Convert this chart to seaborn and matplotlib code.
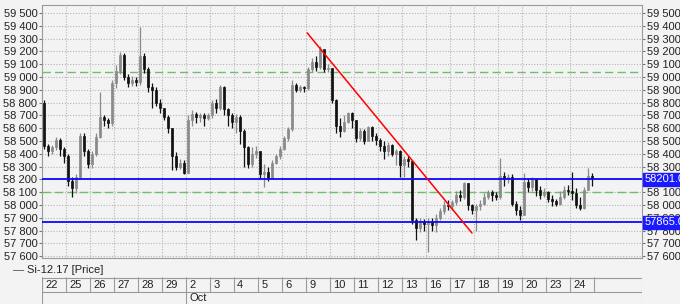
import numpy as np
import pandas as pd
import matplotlib
matplotlib.use("Agg")
import matplotlib.pyplot as plt
from matplotlib.ticker import FuncFormatter, MultipleLocator
import seaborn as sns

# ---------------- data ----------------
day_labels = ["22", "25", "26", "27", "28", "29", "2", "3", "4", "5", "6", "9",
              "10", "11", "12", "13", "16", "17", "18", "19", "20", "23", "24"]
month_label = "Oct"
month_start_day = "2"
first_open = 58800

close = [
    58460, 58420, 58450, 58510, 58440, 58380,   # 22
    58190, 58130, 58220, 58540, 58420, 58320,   # 25
    58400, 58530, 58690, 58660, 58640, 58950,   # 26
    59050, 59170, 59000, 58950, 58980, 58960,   # 27
    59160, 59060, 58920, 58900, 58800, 58760,   # 28
    58690, 58600, 58380, 58300, 58330, 58250,   # 29
    58660, 58710, 58690, 58700, 58680, 58700,   # 2
    58800, 58760, 58920, 58750, 58700, 58650,   # 3
    58690, 58580, 58450, 58320, 58400, 58420,   # 4
    58240, 58260, 58210, 58330, 58380, 58440,   # 5
    58520, 58590, 58940, 58900, 58920, 58910,   # 6
    59060, 59120, 59080, 59220, 59060, 59070,   # 9
    58820, 58620, 58580, 58650, 58720, 58660,   # 10
    58520, 58580, 58500, 58610, 58540, 58510,   # 11
    58460, 58420, 58470, 58400, 58420, 58310,   # 12
    58360, 58340, 57880, 57820, 57870, 57850,   # 13
    57870, 57840, 57900, 57950, 58000, 57990,   # 16
    58020, 58080, 58060, 58170, 58000, 57960,   # 17
    57990, 58010, 58060, 58100, 58080, 58060,   # 18
    58230, 58200, 58220, 58010, 57960, 57920,   # 19
    58180, 58140, 58200, 58120, 58080, 58100,   # 20
    58050, 58030, 58010, 58060, 58120, 58110,   # 23
    58090, 58000, 57980, 58120, 58230, 58201,   # 24
]
high = [
    58820, 58480, 58470, 58530, 58520, 58450,
    58400, 58220, 58240, 58560, 58560, 58440,
    58420, 58560, 58880, 58700, 58680, 58980,
    59090, 59195, 59190, 59020, 59010, 59000,
    59390, 59190, 59080, 58950, 58920, 58830,
    58760, 58700, 58600, 58410, 58360, 58350,
    58700, 58740, 58730, 58720, 58720, 58720,
    58820, 58830, 58940, 58930, 58760, 58720,
    58710, 58700, 58590, 58460, 58450, 58460,
    58420, 58320, 58300, 58350, 58400, 58460,
    58540, 58610, 58980, 58950, 58940, 58930,
    59080, 59150, 59160, 59240, 59200, 59100,
    59070, 58830, 58680, 58700, 58730, 58730,
    58660, 58600, 58590, 58620, 58620, 58560,
    58520, 58500, 58490, 58480, 58440, 58430,
    58380, 58380, 58350, 57900, 57900, 57890,
    57900, 57900, 57930, 57980, 58030, 58040,
    58040, 58110, 58120, 58180, 58170, 58010,
    58010, 58040, 58090, 58120, 58120, 58100,
    58370, 58260, 58240, 58240, 58030, 57990,
    58250, 58210, 58220, 58200, 58150, 58130,
    58110, 58080, 58050, 58110, 58150, 58160,
    58260, 58130, 58060, 58140, 58290, 58250,
]
low = [
    58440, 58380, 58400, 58430, 58380, 58330,
    58150, 58060, 58090, 58200, 58380, 58290,
    58290, 58380, 58520, 58620, 58600, 58620,
    58910, 59020, 58980, 58920, 58930, 58930,
    58940, 59030, 58880, 58760, 58770, 58720,
    58660, 58560, 58270, 58270, 58280, 58240,
    58250, 58620, 58640, 58650, 58620, 58660,
    58680, 58720, 58740, 58700, 58620, 58600,
    58560, 58480, 58300, 58290, 58300, 58370,
    58200, 58140, 58190, 58200, 58320, 58360,
    58430, 58500, 58580, 58880, 58880, 58880,
    58900, 59040, 59050, 59060, 59040, 59040,
    58800, 58560, 58530, 58570, 58640, 58600,
    58490, 58500, 58480, 58500, 58500, 58470,
    58420, 58360, 58380, 58380, 58310, 58220,
    58220, 58300, 57850, 57730, 57790, 57800,
    57630, 57800, 57790, 57880, 57930, 57960,
    57960, 58000, 58030, 58050, 57960, 57930,
    57800, 57960, 58000, 58050, 58030, 58040,
    58050, 58150, 58170, 57990, 57920, 57880,
    57920, 58100, 58110, 58070, 58050, 58060,
    58020, 57990, 57990, 58000, 58050, 58080,
    58040, 57980, 57960, 57970, 58150, 58150,
]

support_levels = [58201, 57865]          # blue lines
support_labels = ["58201.00", "57865.00"]
dashed_levels = [59040, 58100]           # green dashed lines
trend_x = [66.3, 107.5]                  # bar index of trend line ends
trend_y = [59344, 57781]

bars_per_day = 6
total_days = 25

# ---------------- derived ----------------
opens = [first_open] + close[:-1]
df = pd.DataFrame({"open": opens, "high": high, "low": low, "close": close})
df["x"] = np.arange(len(df)) + 0.5
df["up"] = df["close"] >= df["open"]

BG = "#f3f3f3"
sns.set_theme(style="white")
plt.rcParams["font.family"] = ["Liberation Sans", "DejaVu Sans"]
FS = 8.0

fig = plt.figure(figsize=(6.8, 3.04), dpi=100, facecolor=BG)
W, H = 680, 304
ax = fig.add_axes([42 / W, 1 - 258 / H, 600 / W, 253 / H])
ax.set_facecolor(BG)

xmax = total_days * bars_per_day
ax.set_xlim(0, xmax)
ax.set_ylim(57586, 59562)

# grid
for yv in range(57600, 59501, 100):
    ax.axhline(yv, color="#b4b4b4", lw=0.8, ls=(0, (1, 1.5)), zorder=0)
for k in range(1, len(day_labels)):
    ax.axvline(k * bars_per_day, color="#b4b4b4", lw=0.8, ls=(0, (1, 1.5)), zorder=0)

# reference lines
for lv in dashed_levels:
    ax.axhline(lv, color="#6cc06a", lw=1.0, ls=(0, (6, 3)), zorder=1)

# candles
up_c, dn_c = "#8a8a8a", "#111111"
colors = np.where(df["up"], up_c, dn_c)
ax.vlines(df["x"], df["low"], df["high"], colors=colors, lw=0.9, zorder=2)
body_lo = np.minimum(df["open"], df["close"])
body_h = np.maximum(np.abs(df["close"] - df["open"]), 4)
ax.bar(df["x"], body_h, bottom=body_lo, width=0.5, color=colors,
       edgecolor=colors, linewidth=0.5, zorder=3)

for lv in support_levels:
    ax.axhline(lv, color="#0a0aff", lw=1.3, zorder=4)

sns.lineplot(x=trend_x, y=trend_y, ax=ax, color="#ff0000", lw=1.1, zorder=5)

# axes styling
for side in ["left", "right", "top", "bottom"]:
    ax.spines[side].set_color("#9a9a9a")
    ax.spines[side].set_linewidth(0.8)
ax.yaxis.set_major_locator(MultipleLocator(100))
ax.yaxis.set_major_formatter(FuncFormatter(lambda v, p: f"{v:,.0f}".replace(",", " ")))
ax.tick_params(axis="y", which="both", left=True, right=True, labelleft=True,
               labelright=True, length=2.5, width=0.8, color="#777777",
               labelsize=FS, labelcolor="#222222", pad=0.8)
ax.set_xticks([])

# labels for support lines on right
for lv, lab in zip(support_levels, support_labels):
    ax.text(1.004, lv, lab, transform=ax.get_yaxis_transform(), ha="left",
            va="center", fontsize=FS, color="white", clip_on=False, zorder=10,
            bbox=dict(boxstyle="square,pad=0.12", fc="#1a1aff", ec="#1a1aff"))

# legend text
fig.text(13 / W, 1 - 270 / H, "—", fontsize=8, color="#444444", va="center", ha="left")
fig.text(27 / W, 1 - 270 / H, "Si-12.17 [Price]", fontsize=FS, color="#222222",
         va="center", ha="left")

# date axis
dax = fig.add_axes([42 / W, 0, 600 / W, 27 / H])
dax.set_xlim(0, xmax)
dax.set_ylim(0, 27)
dax.set_facecolor(BG)
dax.axis("off")
dax.axhline(26.5, color="#9a9a9a", lw=0.8)
dax.axhline(12.5, color="#9a9a9a", lw=0.8)
for k, lab in enumerate(day_labels):
    xb = k * bars_per_day
    dax.vlines(xb, 12.5, 27, color="#9a9a9a", lw=0.8)
    dax.text(xb + 0.8, 19.5, lab, fontsize=FS, color="#222222", va="center", ha="left")
dax.vlines(len(day_labels) * bars_per_day, 12.5, 27, color="#9a9a9a", lw=0.8)
dax.vlines(0, 0, 27, color="#9a9a9a", lw=0.8)
dax.vlines(xmax, 0, 27, color="#9a9a9a", lw=0.8)
mk = day_labels.index(month_start_day) * bars_per_day
dax.vlines(mk, 0, 12.5, color="#9a9a9a", lw=0.8)
dax.text(mk + 0.8, 6, month_label, fontsize=FS, color="#222222", va="center", ha="left")

fig.savefig("out.png", dpi=100, facecolor=BG)
